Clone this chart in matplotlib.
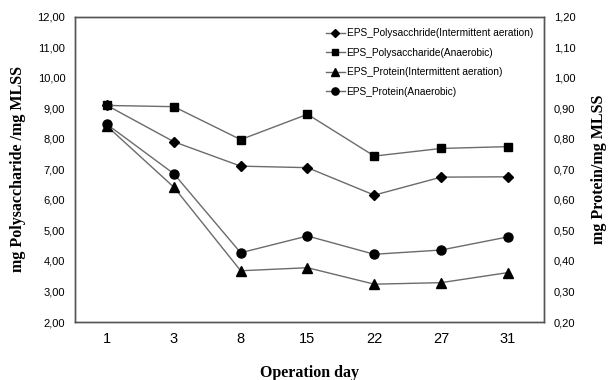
import matplotlib
matplotlib.use("Agg")
import matplotlib.pyplot as plt
from matplotlib import font_manager
import numpy as np

days = ["1", "3", "8", "15", "22", "27", "31"]
poly_intermittent = [9.10, 7.91, 7.11, 7.06, 6.16, 6.75, 6.76]
poly_anaerobic = [9.10, 9.06, 7.98, 8.81, 7.44, 7.69, 7.75]
prot_intermittent = [0.842, 0.642, 0.368, 0.378, 0.324, 0.329, 0.362]
prot_anaerobic = [0.848, 0.686, 0.427, 0.482, 0.422, 0.436, 0.479]
left_ticks = [2, 3, 4, 5, 6, 7, 8, 9, 10, 11, 12]
right_ticks = [0.2, 0.3, 0.4, 0.5, 0.6, 0.7, 0.8, 0.9, 1.0, 1.1, 1.2]

names = {f.name for f in font_manager.fontManager.ttflist}
narrow = "Liberation Sans Narrow" if "Liberation Sans Narrow" in names else "Liberation Sans"
serif = "Liberation Serif"

fig = plt.figure(figsize=(6.13, 3.80), dpi=100)
ax = fig.add_axes([75/613, 1-322/380, (544-75)/613, (322-17)/380])
ax2 = ax.twinx()

x = np.arange(len(days))
lc = "#6b6b6b"
h1, = ax.plot(x, poly_intermittent, color=lc, lw=1.0, marker="D", ms=5,
              mfc="black", mec="black", label="EPS_Polysacchride(Intermittent aeration)")
h2, = ax.plot(x, poly_anaerobic, color=lc, lw=1.0, marker="s", ms=6,
              mfc="black", mec="black", label="EPS_Polysaccharide(Anaerobic)")
h3, = ax2.plot(x, prot_intermittent, color=lc, lw=1.0, marker="^", ms=6.5,
               mfc="black", mec="black", label="EPS_Protein(Intermittent aeration)")
h4, = ax2.plot(x, prot_anaerobic, color=lc, lw=1.0, marker="o", ms=6.5,
               mfc="black", mec="black", label="EPS_Protein(Anaerobic)")

ax.set_xlim(-0.48, 6.54)
ax.set_ylim(2, 12)
ax2.set_ylim(0.2, 1.2)
ax.set_xticks(x)
ax.set_xticklabels(days, fontfamily=narrow, fontsize=10.5)
ax.set_yticks(left_ticks)
ax.set_yticklabels([f"{v:.2f}".replace(".", ",") for v in left_ticks],
                   fontfamily=narrow, fontsize=8)
ax2.set_yticks(right_ticks)
ax2.set_yticklabels([f"{v:.2f}".replace(".", ",") for v in right_ticks],
                    fontfamily=narrow, fontsize=8)
ax.tick_params(axis="both", length=0, pad=7)
ax2.tick_params(axis="y", length=0, pad=7)

for a in (ax, ax2):
    for s in a.spines.values():
        s.set_color("#555555")
        s.set_linewidth(1.0)

ax.set_xlabel("Operation day", fontfamily=serif, fontweight="bold", fontsize=11.5, labelpad=14)
ax.set_ylabel("mg Polysaccharide /mg MLSS", fontfamily=serif, fontweight="bold", fontsize=11.5, labelpad=8)
ax2.set_ylabel("mg Protein/mg MLSS", fontfamily=serif, fontweight="bold", fontsize=11.5,
               rotation=90, labelpad=11)

leg = ax.legend(handles=[h1, h2, h3, h4], loc="upper right", frameon=False,
                prop={"family": narrow, "size": 7.3}, handlelength=1.8,
                handletextpad=0.2, labelspacing=0.95, borderaxespad=0.7,
                markerscale=0.8)

fig.savefig("out.png", dpi=100)
